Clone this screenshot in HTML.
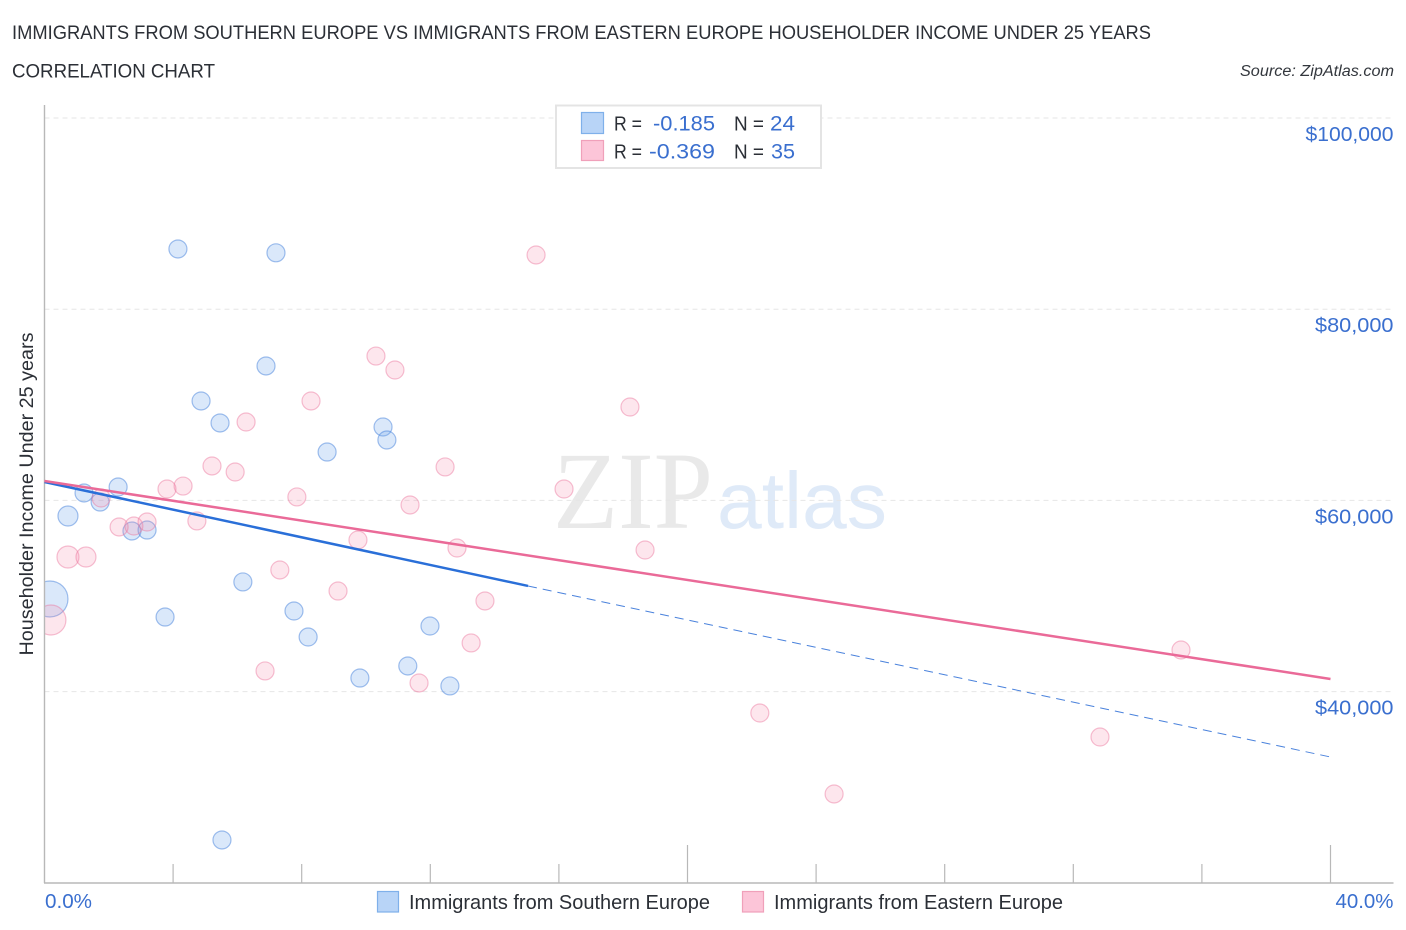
<!DOCTYPE html>
<html>
<head>
<meta charset="utf-8">
<title>Correlation chart</title>
<style>
html,body{margin:0;padding:0;background:#fff;}
svg{display:block;font-family:"Liberation Sans",sans-serif;}
</style>
</head>
<body>
<svg id="chart" width="1406" height="930" viewBox="0 0 1406 930">
  <defs>
    <clipPath id="plot-clip"><rect x="44" y="100" width="1350" height="783"/></clipPath>
  </defs>
  <rect width="1406" height="930" fill="#fff"/>
  <text x="12" y="39" font-size="19.5" fill="#2b2f36" textLength="1139" lengthAdjust="spacingAndGlyphs">IMMIGRANTS FROM SOUTHERN EUROPE VS IMMIGRANTS FROM EASTERN EUROPE HOUSEHOLDER INCOME UNDER 25 YEARS</text>
  <text x="12" y="77.5" font-size="19.5" fill="#2b2f36" textLength="203" lengthAdjust="spacingAndGlyphs">CORRELATION CHART</text>
  <text x="1394" y="76" font-size="15.5" font-style="italic" fill="#33373d" text-anchor="end" textLength="154" lengthAdjust="spacingAndGlyphs">Source: ZipAtlas.com</text>
  <text x="553" y="528" font-size="110" font-family="'Liberation Serif',serif" fill="#e9e9e9" textLength="160" lengthAdjust="spacingAndGlyphs">ZIP</text>
  <text x="717" y="528" font-size="80" fill="#dfeaf8" textLength="170" lengthAdjust="spacingAndGlyphs">atlas</text>
  <g id="grid"></g>
  <g id="points" clip-path="url(#plot-clip)"></g>
  <g id="axes"></g>
  <g id="trends"></g>
  <text transform="translate(33,494) rotate(-90)" font-size="19" fill="#2b2f36" text-anchor="middle" textLength="323" lengthAdjust="spacingAndGlyphs">Householder Income Under 25 years</text>

  <g>
    <rect x="556" y="105.5" width="265" height="62.5" fill="#fff" stroke="#e4e4e4" stroke-width="2"/>
    <rect x="581.5" y="112.5" width="22" height="21" fill="#b8d4f7" stroke="#7fb0ea" stroke-width="1.2"/>
    <rect x="581.5" y="140.5" width="22" height="20" fill="#fcc5d8" stroke="#f0a0ba" stroke-width="1.2"/>
    <text x="614" y="130.5" font-size="20" fill="#2b2f36" textLength="28" lengthAdjust="spacingAndGlyphs">R =</text>
    <text x="653" y="130.5" font-size="21" fill="#3a6fcf" textLength="62" lengthAdjust="spacingAndGlyphs">-0.185</text>
    <text x="734" y="130.5" font-size="20" fill="#2b2f36" textLength="30" lengthAdjust="spacingAndGlyphs">N =</text>
    <text x="770" y="130.5" font-size="21" fill="#3a6fcf" textLength="25" lengthAdjust="spacingAndGlyphs">24</text>
    <text x="614" y="158.5" font-size="20" fill="#2b2f36" textLength="28" lengthAdjust="spacingAndGlyphs">R =</text>
    <text x="649" y="158.5" font-size="21" fill="#3a6fcf" textLength="66" lengthAdjust="spacingAndGlyphs">-0.369</text>
    <text x="734" y="158.5" font-size="20" fill="#2b2f36" textLength="30" lengthAdjust="spacingAndGlyphs">N =</text>
    <text x="771" y="158.5" font-size="21" fill="#3a6fcf" textLength="24" lengthAdjust="spacingAndGlyphs">35</text>
  </g>

  <g>
    <g>
      <rect x="377.5" y="891.5" width="21" height="20.5" fill="#b8d4f7" stroke="#7fb0ea" stroke-width="1.2"/>
      <text x="409" y="909" font-size="20" fill="#2b2f36" textLength="301" lengthAdjust="spacingAndGlyphs">Immigrants from Southern Europe</text>
    </g>
    <g>
      <rect x="742.5" y="891.5" width="21" height="20.5" fill="#fcc5d8" stroke="#f0a0ba" stroke-width="1.2"/>
      <text x="774" y="909" font-size="20" fill="#2b2f36" textLength="289" lengthAdjust="spacingAndGlyphs">Immigrants from Eastern Europe</text>
    </g>
  </g>
</svg>
<script>
var yTickValues = [100000, 80000, 60000, 40000];
var yTickLabels = ["$100,000", "$80,000", "$60,000", "$40,000"];
var xTickValues = [0, 4, 8, 12, 16, 20, 24, 28, 32, 36, 40];
var xEndLabels = ["0.0%", "40.0%"];

var southernX = [4.15, 7.2, 6.89, 4.87, 5.46, 8.79, 10.53, 10.65, 2.29, 1.23, 1.73, 0.73, 2.72, 3.19, 6.17, 3.75, 7.76, 8.2, 11.99, 11.3, 9.81, 12.61, 5.52, 0.17];
var southernY = [86300, 85900, 74060, 70400, 68100, 65060, 67680, 66320, 61400, 60775, 59830, 58370, 56800, 56900, 51470, 47800, 48430, 45710, 46860, 42680, 41420, 40590, 24480, 49690];
var southernR = [9, 9, 9, 9, 9, 9, 9, 9, 9, 9, 9, 10, 9, 9, 9, 9, 9, 9, 9, 9, 9, 9, 9, 18];

var easternX = [15.29, 10.31, 10.9, 8.29, 6.27, 18.21, 5.21, 5.93, 4.31, 3.81, 7.85, 12.46, 11.37, 16.16, 1.76, 2.32, 2.78, 3.19, 4.74, 9.75, 12.83, 18.68, 0.73, 1.29, 7.32, 9.13, 13.7, 13.27, 6.86, 11.65, 0.2, 22.25, 35.35, 32.83, 24.56];
var easternY = [85670, 75100, 73640, 70400, 68200, 69770, 63600, 62970, 61500, 61190, 60360, 63500, 59520, 61190, 60250, 57220, 57320, 57740, 57850, 55860, 55020, 54810, 54080, 54080, 52720, 50520, 49480, 45090, 42160, 40900, 47490, 37760, 44350, 35250, 29290];
var easternR = [9, 9, 9, 9, 9, 9, 9, 9, 9, 9, 9, 9, 9, 9, 9, 9, 9, 9, 9, 9, 9, 9, 11, 10, 9, 9, 9, 9, 9, 9, 15, 9, 9, 9, 9];

var southernTrendX = [0, 15.04];
var southernTrendY = [61925, 51050];
var southernProjectionX = [15.04, 40];
var southernProjectionY = [51050, 33160];
var easternTrendX = [0, 40];
var easternTrendY = [62030, 41320];

var NS = "http://www.w3.org/2000/svg";
var X0 = 44.5, PX_PER_PCT = 32.15;
var Y_TOP_PX = 118, PX_PER_DOLLAR = 191.2 / 20000;
function xScale(v) { return X0 + v * PX_PER_PCT; }
function yScale(v) { return Y_TOP_PX + (100000 - v) * PX_PER_DOLLAR; }
function make(tag, attrs, parent) {
  var el = document.createElementNS(NS, tag);
  for (var k in attrs) el.setAttribute(k, attrs[k]);
  parent.appendChild(el);
  return el;
}
var gridG = document.getElementById("grid");
var axesG = document.getElementById("axes");
var pointsG = document.getElementById("points");
var trendsG = document.getElementById("trends");

yTickValues.forEach(function (v, i) {
  var y = yScale(v);
  var line = make("line", {x1: X0, x2: 1393, y1: y, y2: y, stroke: "#e6e6e6", "stroke-width": 1, "stroke-dasharray": "5 4"}, gridG);
  
  
  var label = make("text", {x: 1393.5, y: y + 23, "font-size": 20.5, fill: "#3a6fcf", "text-anchor": "end", textLength: i === 0 ? 88 : 78.5, lengthAdjust: "spacingAndGlyphs"}, axesG);
  label.textContent = yTickLabels[i];
  
  
});

var yAxis = make("line", {x1: X0, x2: X0, y1: 105, y2: 883, stroke: "#b8b8b8", "stroke-width": 1.4}, axesG);


var xAxis = make("line", {x1: X0 - 0.5, x2: 1393.5, y1: 883, y2: 883, stroke: "#b8b8b8", "stroke-width": 1.4}, axesG);



xTickValues.forEach(function (v) {
  if (v === 0) return;
  var x = xScale(v);
  var tall = v % 20 === 0;
  var tick = make("line", {x1: x, x2: x, y1: tall ? 845 : 864, y2: 883, stroke: "#b8b8b8", "stroke-width": 1.2}, axesG);
  
  
});

var xLabelLeft = make("text", {x: 45, y: 908, "font-size": 20, fill: "#3a6fcf", textLength: 47, lengthAdjust: "spacingAndGlyphs"}, axesG);
xLabelLeft.textContent = xEndLabels[0];


var xLabelRight = make("text", {x: 1393.5, y: 908, "font-size": 20, fill: "#3a6fcf", "text-anchor": "end", textLength: 58, lengthAdjust: "spacingAndGlyphs"}, axesG);
xLabelRight.textContent = xEndLabels[1];



function drawPoints(xs, ys, rs, fill, stroke, name) {
  xs.forEach(function (v, i) {
    var c = make("circle", {cx: xScale(v), cy: yScale(ys[i]), r: rs[i], fill: fill, stroke: stroke, "stroke-width": 1.2}, pointsG);
    
    
  });
}
drawPoints(southernX, southernY, southernR, "rgba(120,170,235,0.27)", "rgba(70,130,220,0.5)", "point-southern-europe");
drawPoints(easternX, easternY, easternR, "rgba(245,140,175,0.22)", "rgba(235,115,155,0.45)", "point-eastern-europe");

var trendA = make("line", {x1: xScale(southernTrendX[0]), y1: yScale(southernTrendY[0]), x2: xScale(southernTrendX[1]), y2: yScale(southernTrendY[1]), stroke: "#2a6fd8", "stroke-width": 2.5}, trendsG);


var trendB = make("line", {x1: xScale(southernProjectionX[0]), y1: yScale(southernProjectionY[0]), x2: xScale(southernProjectionX[1]), y2: yScale(southernProjectionY[1]), stroke: "#4a82dc", "stroke-width": 1, "stroke-dasharray": "9 6"}, trendsG);


var trendC = make("line", {x1: xScale(easternTrendX[0]), y1: yScale(easternTrendY[0]), x2: xScale(easternTrendX[1]), y2: yScale(easternTrendY[1]), stroke: "#ea6a98", "stroke-width": 2.5}, trendsG);


</script>
</body>
</html>
